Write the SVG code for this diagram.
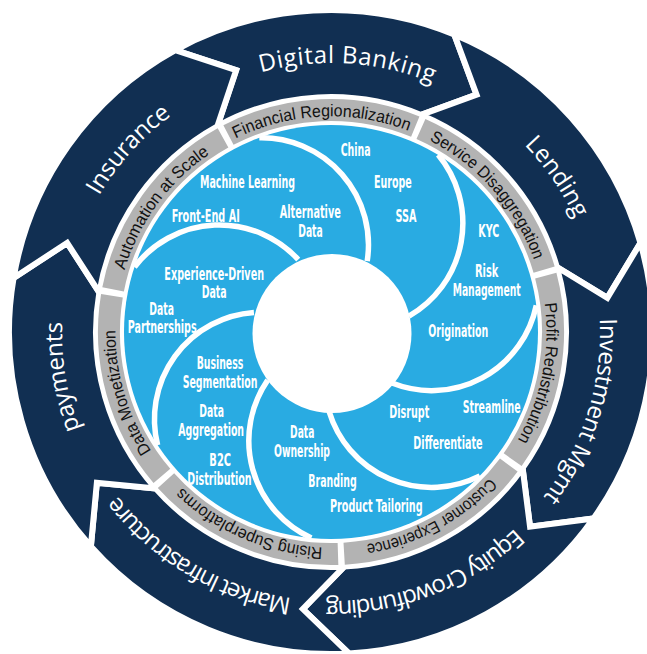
<svg xmlns="http://www.w3.org/2000/svg" xmlns:xlink="http://www.w3.org/1999/xlink" width="647" height="654" viewBox="0 0 647 654">
<style>
.chev{fill:#112f52;stroke:#fff;stroke-width:6;stroke-linejoin:miter}
.garc{fill:none;stroke:#b3b3b3;stroke-width:22}
.sep{fill:none;stroke:#fff;stroke-width:5.5}
.bt{font-family:"Liberation Sans Narrow","DejaVu Sans Condensed","Roboto Condensed","Liberation Sans",sans-serif;font-weight:bold;font-size:18.5px;fill:#fff;text-anchor:middle}
.gt{font-family:"Liberation Sans","Open Sans",sans-serif;font-size:17px;fill:#111;text-anchor:middle}
.dt{font-family:"Open Sans","Noto Sans",sans-serif;font-size:24px;fill:#fff;text-anchor:middle}
</style>
<defs>
<path id="chevron" d="M290.1,-139.7 A322,322 0 0 1 290.1,139.7 L228.9,158.6 L211.7,102.0 A235,235 0 0 0 211.7,-102.0 L266.7,-80.1 Z"/>
<path id="grayarc" d="M201.4,-93.5 A222,222 0 0 1 201.4,93.5"/>
<path id="separator" d="M36.2,-70.8 A107,107 0 0 0 -71.7,-194.2"/>
<path id="pDB" d="M84.3,224.7 A269,269 0 0 1 588.9,255.6"/>
<path id="pLE" d="M263.6,71.6 A269,269 0 0 1 550.0,488.2"/>
<path id="pIM" d="M494.8,118.6 A269,269 0 0 1 342.7,600.7"/>
<path id="pEC" d="M599.95,327.3 A269,269 0 0 1 128.0,508.5"/>
<path id="pMI" d="M502.1,539.6 A269,269 0 0 1 66.5,283.0"/>
<path id="pPA" d="M282.0,596.5 A269,269 0 0 1 198.5,97.9"/>
<path id="pIN" d="M93.5,458.3 A269,269 0 0 1 431.8,82.6"/>
<path id="gFR" d="M139.6,232.8 A215.5,215.5 0 0 1 512.6,215.9"/>
<path id="gSD" d="M289.2,120.6 A215.5,215.5 0 0 1 535.0,401.4"/>
<path id="gPR" d="M473.0,169.9 A215.5,215.5 0 0 1 400.5,536.0"/>
<path id="gCE" d="M546.4,338.0 A215.5,215.5 0 0 1 218.1,515.5"/>
<path id="gRS" d="M460.7,504.1 A215.5,215.5 0 0 1 117.1,358.3"/>
<path id="gDM" d="M280.7,541.6 A215.5,215.5 0 0 1 174.7,183.6"/>
<path id="gAS" d="M133.8,419.0 A215.5,215.5 0 0 1 354.3,117.8"/>
</defs>
<rect width="647" height="654" fill="#fff"/>

<!-- outer ring: dark chevrons -->
<g id="digital-banking">
<use href="#chevron" class="chev" transform="translate(331,332) rotate(-93.2)"/>
<text class="dt"><textPath href="#pDB" startOffset="50%" textLength="175">Digital Banking</textPath></text>
</g>
<g id="lending">
<use href="#chevron" class="chev" transform="translate(331,332) rotate(-41.77)"/>
<text class="dt"><textPath href="#pLE" startOffset="50%" textLength="90">Lending</textPath></text>
</g>
<g id="investment-mgmt">
<use href="#chevron" class="chev" transform="translate(331,332) rotate(9.66)"/>
<text class="dt"><textPath href="#pIM" startOffset="50%" textLength="191">Investment Mgmt</textPath></text>
</g>
<g id="equity-crowdfunding">
<use href="#chevron" class="chev" transform="translate(331,332) rotate(61.09)"/>
<text class="dt"><textPath href="#pEC" startOffset="50%" textLength="208">Equity Crowdfunding</textPath></text>
</g>
<g id="market-infrastructure">
<use href="#chevron" class="chev" transform="translate(331,332) rotate(112.51)"/>
<text class="dt"><textPath href="#pMI" startOffset="50%" textLength="207">Market Infrastructure</textPath></text>
</g>
<g id="payments">
<use href="#chevron" class="chev" transform="translate(331,332) rotate(163.94)"/>
<text class="dt"><textPath href="#pPA" startOffset="50%" textLength="109">payments</textPath></text>
</g>
<g id="insurance">
<use href="#chevron" class="chev" transform="translate(331,332) rotate(215.37)"/>
<text class="dt"><textPath href="#pIN" startOffset="50%" textLength="109">Insurance</textPath></text>
</g>

<!-- middle ring: gray segments -->
<g id="financial-regionalization">
<use href="#grayarc" class="garc" transform="translate(331,332) rotate(-92.6)"/>
<text class="gt"><textPath href="#gFR" startOffset="50%" textLength="178" lengthAdjust="spacingAndGlyphs">Financial Regionalization</textPath></text>
</g>
<g id="service-disaggregation">
<use href="#grayarc" class="garc" transform="translate(331,332) rotate(-41.2)"/>
<text class="gt"><textPath href="#gSD" startOffset="50%" textLength="163" lengthAdjust="spacingAndGlyphs">Service Disaggregation</textPath></text>
</g>
<g id="profit-redistribution">
<use href="#grayarc" class="garc" transform="translate(331,332) rotate(10.2)"/>
<text class="gt"><textPath href="#gPR" startOffset="50%" textLength="142" lengthAdjust="spacingAndGlyphs">Profit Redistribution</textPath></text>
</g>
<g id="customer-experience">
<use href="#grayarc" class="garc" transform="translate(331,332) rotate(61.7)"/>
<text class="gt"><textPath href="#gCE" startOffset="50%" textLength="143" lengthAdjust="spacingAndGlyphs">Customer Experience</textPath></text>
</g>
<g id="rising-superplatforms">
<use href="#grayarc" class="garc" transform="translate(331,332) rotate(113.1)"/>
<text class="gt"><textPath href="#gRS" startOffset="50%" textLength="156" lengthAdjust="spacingAndGlyphs">Rising Superplatforms</textPath></text>
</g>
<g id="data-monetization">
<use href="#grayarc" class="garc" transform="translate(331,332) rotate(164.5)"/>
<text class="gt"><textPath href="#gDM" startOffset="50%" textLength="128" lengthAdjust="spacingAndGlyphs">Data Monetization</textPath></text>
</g>
<g id="automation-at-scale">
<use href="#grayarc" class="garc" transform="translate(331,332) rotate(216.0)"/>
<text class="gt"><textPath href="#gAS" startOffset="50%" textLength="147" lengthAdjust="spacingAndGlyphs">Automation at Scale</textPath></text>
</g>

<!-- inner pinwheel -->
<circle id="inner-disc" cx="331" cy="332" r="207" fill="#29abe2"/>
<g id="dividers" transform="translate(331,332)">
<use href="#separator" class="sep"/>
<use href="#separator" class="sep" transform="rotate(51.43)"/>
<use href="#separator" class="sep" transform="rotate(102.86)"/>
<use href="#separator" class="sep" transform="rotate(154.29)"/>
<use href="#separator" class="sep" transform="rotate(205.71)"/>
<use href="#separator" class="sep" transform="rotate(257.14)"/>
<use href="#separator" class="sep" transform="rotate(308.57)"/>
</g>
<circle id="hub" cx="332" cy="333.5" r="79.5" fill="#fff"/>

<g id="blade-automation">
<text class="bt" x="247.5" y="188.3" textLength="95" lengthAdjust="spacingAndGlyphs">Machine Learning</text>
<text class="bt" x="205.8" y="221.7" textLength="68" lengthAdjust="spacingAndGlyphs">Front-End AI</text>
<text class="bt" x="310.3" y="218.3" textLength="61" lengthAdjust="spacingAndGlyphs">Alternative</text>
<text class="bt" x="310.5" y="236.7" textLength="24.5" lengthAdjust="spacingAndGlyphs">Data</text>
</g>
<g id="blade-regional">
<text class="bt" x="355.7" y="156" textLength="30" lengthAdjust="spacingAndGlyphs">China</text>
<text class="bt" x="392.8" y="188.3" textLength="37.7" lengthAdjust="spacingAndGlyphs">Europe</text>
<text class="bt" x="406" y="221.7" textLength="21" lengthAdjust="spacingAndGlyphs">SSA</text>
</g>
<g id="blade-services">
<text class="bt" x="488.8" y="237.3" textLength="21" lengthAdjust="spacingAndGlyphs">KYC</text>
<text class="bt" x="486.7" y="276.7" textLength="23.3" lengthAdjust="spacingAndGlyphs">Risk</text>
<text class="bt" x="486.7" y="295.5" textLength="68" lengthAdjust="spacingAndGlyphs">Management</text>
<text class="bt" x="458.3" y="336.7" textLength="60" lengthAdjust="spacingAndGlyphs">Origination</text>
</g>
<g id="blade-profit">
<text class="bt" x="491.7" y="413.3" textLength="58" lengthAdjust="spacingAndGlyphs">Streamline</text>
<text class="bt" x="409.3" y="418.3" textLength="40" lengthAdjust="spacingAndGlyphs">Disrupt</text>
<text class="bt" x="448" y="449.3" textLength="69.3" lengthAdjust="spacingAndGlyphs">Differentiate</text>
</g>
<g id="blade-customer">
<text class="bt" x="302.2" y="438.3" textLength="24.3" lengthAdjust="spacingAndGlyphs">Data</text>
<text class="bt" x="302" y="457.3" textLength="56" lengthAdjust="spacingAndGlyphs">Ownership</text>
<text class="bt" x="332.5" y="486.7" textLength="48.3" lengthAdjust="spacingAndGlyphs">Branding</text>
<text class="bt" x="376.3" y="511.7" textLength="92.7" lengthAdjust="spacingAndGlyphs">Product Tailoring</text>
</g>
<g id="blade-platforms">
<text class="bt" x="220" y="369.3" textLength="46.7" lengthAdjust="spacingAndGlyphs">Business</text>
<text class="bt" x="220" y="388.3" textLength="74.7" lengthAdjust="spacingAndGlyphs">Segmentation</text>
<text class="bt" x="211.7" y="416.7" textLength="24.7" lengthAdjust="spacingAndGlyphs">Data</text>
<text class="bt" x="211.2" y="435.7" textLength="65.7" lengthAdjust="spacingAndGlyphs">Aggregation</text>
<text class="bt" x="220.2" y="465.7" textLength="21.7" lengthAdjust="spacingAndGlyphs">B2C</text>
<text class="bt" x="219.5" y="485" textLength="64.3" lengthAdjust="spacingAndGlyphs">Distribution</text>
</g>
<g id="blade-monetization">
<text class="bt" x="214.2" y="280" textLength="99.7" lengthAdjust="spacingAndGlyphs">Experience-Driven</text>
<text class="bt" x="214.2" y="298.3" textLength="25" lengthAdjust="spacingAndGlyphs">Data</text>
<text class="bt" x="161.7" y="315" textLength="24.7" lengthAdjust="spacingAndGlyphs">Data</text>
<text class="bt" x="162.2" y="333.3" textLength="69" lengthAdjust="spacingAndGlyphs">Partnerships</text>
</g>
</svg>
